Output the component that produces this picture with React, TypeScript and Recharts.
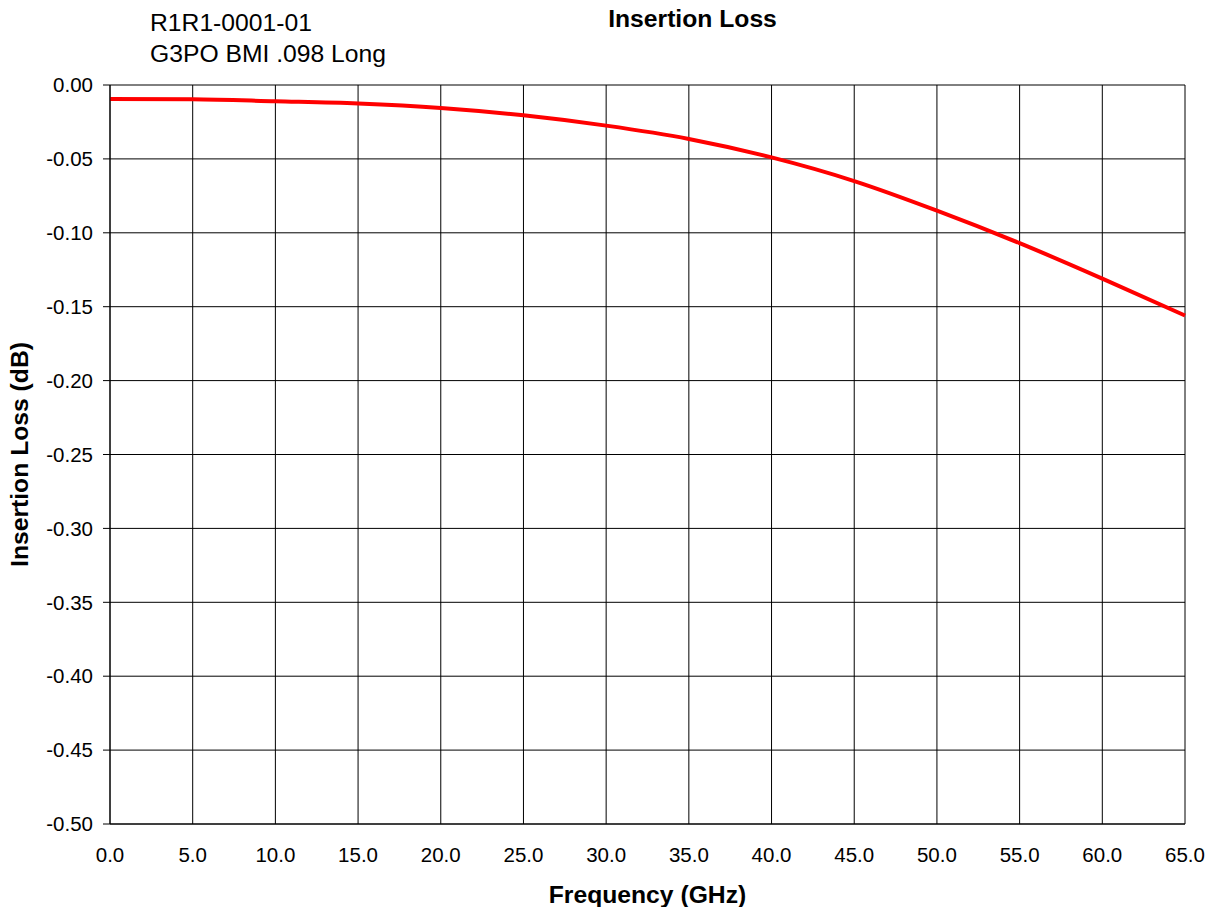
import React from "react";
import { LineChart, Line, XAxis, YAxis, CartesianGrid, Label } from "recharts";

const frequencies = [0, 5, 10, 15, 20, 25, 30, 35, 40, 45, 50, 55, 60, 65];
const insertionLoss = [-0.0095, -0.0097, -0.011, -0.0125, -0.0155, -0.0205, -0.0275, -0.0365, -0.049, -0.065, -0.085, -0.107, -0.131, -0.156];
const xTicks = [0, 5, 10, 15, 20, 25, 30, 35, 40, 45, 50, 55, 60, 65];
const yTicks = [0, -0.05, -0.1, -0.15, -0.2, -0.25, -0.3, -0.35, -0.4, -0.45, -0.5];
const subtitleLines = ["R1R1-0001-01", "G3PO BMI .098 Long"];
const title = "Insertion Loss";

const data = frequencies.map((f, i) => ({ f, v: insertionLoss[i] }));

const FONT = "'Liberation Sans', Arial, sans-serif";
const BIG = 24.7;
const TICK = 20.5;

export default function App() {
  return (
    <div style={{ position: "absolute", left: 0, top: 0, width: 1215, height: 907, background: "#fff", fontFamily: FONT, overflow: "hidden" }}>
      <svg width={1215} height={100} style={{ position: "absolute", left: 0, top: 0 }}>
        <text x={150} y={31} fontSize={BIG} fontFamily={FONT} fill="#000">{subtitleLines[0]}</text>
        <text x={150} y={62} fontSize={BIG} fontFamily={FONT} fill="#000">{subtitleLines[1]}</text>
        <text x={692.5} y={27} fontSize={BIG} fontFamily={FONT} fontWeight="bold" textAnchor="middle" fill="#000">{title}</text>
      </svg>
      <div style={{ position: "absolute", left: 0, top: 0 }}>
        <LineChart
          width={1215}
          height={907}
          data={data}
          margin={{ top: 85, right: 30, bottom: 43, left: 10 }}
          style={{ fontFamily: FONT }}
        >
          <CartesianGrid stroke="#000" strokeWidth={1} />
          <XAxis
            dataKey="f"
            type="number"
            domain={[0, 65]}
            ticks={xTicks}
            tickFormatter={(v: number) => v.toFixed(1)}
            tickLine={false}
            tickSize={0}
            tickMargin={23}
            height={40}
            axisLine={{ stroke: "#000" }}
            tick={{ fill: "#000", fontSize: TICK }}
            interval={0}
          >
            <Label value="Frequency (GHz)" position="bottom" offset={21} style={{ fontSize: BIG, fontWeight: "bold", fill: "#000" }} />
          </XAxis>
          <YAxis
            type="number"
            domain={[-0.5, 0]}
            ticks={yTicks}
            tickFormatter={(v: number) => v.toFixed(2)}
            tickSize={7}
            tickMargin={10}
            width={100}
            axisLine={{ stroke: "#000" }}
            tickLine={{ stroke: "#000" }}
            tick={{ fill: "#000", fontSize: TICK }}
            interval={0}
          >
            <Label value="Insertion Loss (dB)" angle={-90} position="insideLeft" offset={9} style={{ fontSize: BIG, fontWeight: "bold", fill: "#000", textAnchor: "middle" }} />
          </YAxis>
          <Line type="monotone" dataKey="v" stroke="#ff0000" strokeWidth={4} dot={false} isAnimationActive={false} />
        </LineChart>
      </div>
    </div>
  );
}
